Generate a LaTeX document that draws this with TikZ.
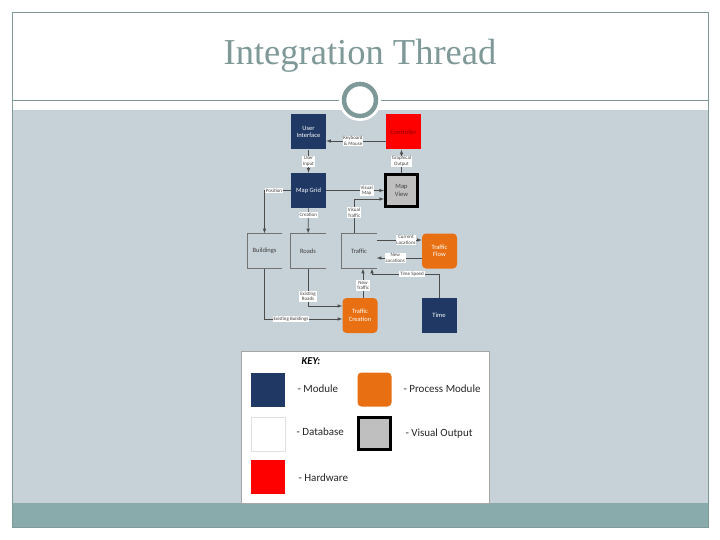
\documentclass[tikz,border=0pt]{standalone}
\usepackage{fontspec}
\setmainfont{Carlito}
\newfontfamily\titlefont{Liberation Serif}
\usetikzlibrary{arrows}
\definecolor{navy}{RGB}{31,56,100}
\definecolor{procorange}{RGB}{232,112,18}
\definecolor{slidegray}{RGB}{199,210,216}
\definecolor{bandteal}{RGB}{138,171,171}
\definecolor{titlegray}{RGB}{127,152,152}
\definecolor{viewgray}{RGB}{191,191,191}
\tikzset{
	box/.style={minimum width=35pt, minimum height=35pt, inner sep=1pt, align=center, font=\fontsize{6.5}{7.5}\selectfont},
	module/.style={box, fill=navy, text=white},
	procbox/.style={box, fill=procorange, text=white, rounded corners=4pt},
	hwbox/.style={box, fill=red, text=red!55!black},
	viewbox/.style={box, fill=viewgray, draw=black, line width=3pt, minimum width=32pt, minimum height=32pt, text=black!75},
	store/.style={box, text=black!75},
	storeline/.style={draw=black!55, line width=0.6pt},
	lbl/.style={fill=white, inner sep=0.8pt, align=center, font=\fontsize{5}{5.6}\selectfont, text=black!75},
	conn/.style={->, >=latex, line width=0.6pt, draw=black!70},
	keytxt/.style={anchor=west, font=\fontsize{11}{12}\selectfont, text=black!85}
}
\begin{document}
\begin{tikzpicture}[x=1pt,y=-1pt]
		\useasboundingbox (0,0) rectangle (720,540);
		\fill[white] (0,0) rectangle (720,540);
		\fill[slidegray] (12,110) rectangle (708,503);
		\fill[bandteal] (12,503) rectangle (708,527);
		\draw[titlegray, line width=0.8pt] (12,12) rectangle (708,527);
		\draw[titlegray, line width=0.8pt] (12,100) -- (708,100);
		\node[font=\titlefont\fontsize{36.5}{38}\selectfont, text=titlegray] (title) at (360,56) {Integration Thread};
		\fill[white] (360,100) circle (21pt);
		\draw[titlegray, line width=4.5pt] (360,100) circle (16pt);

		\node[module] (ui) at (308.5,132) {User\\Interface};
		\node[hwbox] (ctrl) at (403.5,132) {Controller};
		\node[module] (grid) at (308.5,190.5) {Map Grid};
		\node[viewbox] (mview) at (401.5,190.5) {Map\\View};
		\node[store] (bld) at (264.5,251) {Buildings};
		\node[store] (roads) at (308,251) {Roads};
		\node[store] (traffic) at (359,251) {Traffic};
		\node[procbox] (tflow) at (439.5,251) {Traffic\\Flow};
		\node[procbox] (tcreate) at (360,315.5) {Traffic\\Creation};
		\node[module] (time) at (439,315.5) {Time};
		\foreach \n in {bld,roads,traffic}
			\draw[storeline] (\n.north east) -- (\n.north west) -- (\n.south west) -- (\n.south east);
		\coordinate (ts) at (372,274);

		\draw[conn] ([yshift=-9pt]ctrl.west) -- ([yshift=-9pt]ui.east) node[lbl, pos=0.55] {Keyboard\\\& Mouse};
		\draw[conn] (ui) -- (grid) node[lbl, midway] {User\\Input};
		\draw[conn] (mview.north) -- (mview.north |- ctrl.south) node[lbl, midway] {Graphical\\Output};
		\draw[conn] (grid.east) -- (mview.west) node[lbl, pos=0.7] {Visual\\Map};
		\draw[conn] ([xshift=-5pt]traffic.north) |- ([yshift=-8.5pt]mview.west) node[lbl, pos=0.3] {Visual\\Traffic};
		\draw[conn] (grid.west) -| (bld.north) node[lbl, pos=0.32] {Position};
		\draw[conn] (grid) -- (roads) node[lbl, pos=0.27] {Creation};
		\draw[conn] ([yshift=11pt]traffic.east) -- ([yshift=11pt]tflow.west) node[lbl, pos=0.65] {Current\\Locations};
		\draw[conn] ([yshift=-7pt]tflow.west) -- ([yshift=-7pt]traffic.east) node[lbl, pos=0.59] {New\\Locations};
		\draw[conn] (time.north) |- (ts) -- (ts |- traffic.south);
		\node[lbl] (tslbl) at (412,274) {Time Speed};
		\draw[conn] ([xshift=3pt]tcreate.north) -- ([xshift=3pt]tcreate.north |- traffic.south) node[lbl, pos=0.43] {New\\Traffic};
		\draw[conn] (roads.south) |- ([yshift=9.5pt]tcreate.west) node[lbl, pos=0.37] {Existing\\Roads};
		\draw[conn] (bld.south) |- ([yshift=-3.5pt]tcreate.west) node[lbl, pos=0.67] {Existing Buildings};

		\draw[black!35, fill=white] (241,351) rectangle (489,503);
		\node[font=\bfseries\itshape\fontsize{10.5}{12}\selectfont] (keyttl) at (311,361) {KEY:};
		\node[module, minimum width=34pt, minimum height=34pt] (kmod) at (268,389.5) {};
		\node[procbox, minimum width=34pt, minimum height=34pt] (kproc) at (374.5,389.5) {};
		\node[box, fill=white, draw=black!12, minimum width=34pt, minimum height=34pt] (kdb) at (268,434) {};
		\node[viewbox] (kview) at (374.5,433) {};
		\node[hwbox, minimum width=34pt, minimum height=34pt] (khw) at (268,477) {};
		\node[keytxt] (kmodtxt) at (294,389) {- Module};
		\node[keytxt] (kproctxt) at (400,389) {- Process Module};
		\node[keytxt] (kdbtxt) at (293,432) {- Database};
		\node[keytxt] (kviewtxt) at (402,434) {- Visual Output};
		\node[keytxt] (khwtxt) at (295,478) {- Hardware};
\end{tikzpicture}
\end{document}
